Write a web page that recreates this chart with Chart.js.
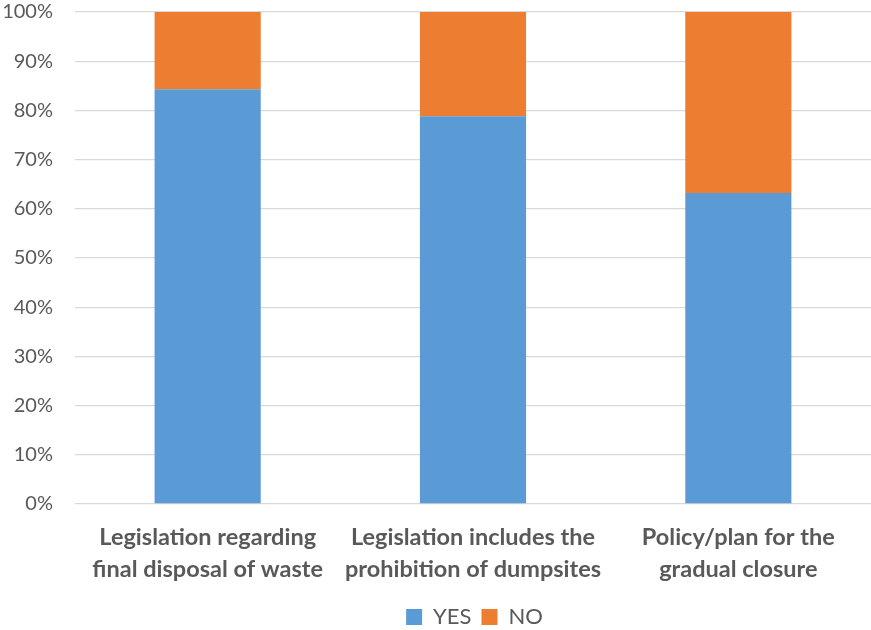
<!DOCTYPE html>
<html>
<head>
<meta charset="utf-8">
<script src="https://cdn.jsdelivr.net/npm/chart.js@4/dist/chart.umd.min.js"></script>
<style>
  html, body { margin: 0; padding: 0; background: #fff; }
  #wrap { width: 871px; height: 630px; }
</style>
</head>
<body>
<div id="wrap"><canvas id="chart" width="871" height="630"></canvas></div>
<script>
// Categories and shares (percent of respondents)
const categories = [
  ["Legislation regarding", "final disposal of waste"],
  ["Legislation includes the", "prohibition of dumpsites"],
  ["Policy/plan for the", "gradual closure"]
];
const yesValues = [84.3, 78.8, 63.2];
const noValues = [15.7, 21.2, 36.8];
const yTicks = [0, 10, 20, 30, 40, 50, 60, 70, 80, 90, 100];

const grey = "#595959";

// Legend sits centred under the plot area rather than the whole canvas
const legendShift = {
  id: "legendShift",
  afterLayout(chart) {
    const lg = chart.legend;
    if (!lg) return;
    const dx = 39;
    lg.left += dx;
    lg.right += dx;
  }
};

new Chart(document.getElementById("chart"), {
  type: "bar",
  data: {
    labels: categories,
    datasets: [
      { label: "YES", data: yesValues, backgroundColor: "#5B9BD5", borderWidth: 0 },
      { label: "NO", data: noValues, backgroundColor: "#ED7D31", borderWidth: 0 }
    ]
  },
  plugins: [legendShift],
  options: {
    responsive: false,
    animation: false,
    devicePixelRatio: 1,
    layout: { padding: { top: 12, right: 0, bottom: -8, left: 0 } },
    datasets: { bar: { categoryPercentage: 1.0, barPercentage: 0.4 } },
    scales: {
      x: {
        stacked: true,
        grid: { display: false },
        border: { display: false },
        ticks: {
          color: grey,
          padding: 9,
          maxRotation: 0,
          autoSkip: false,
          font: { family: "Lato", size: 23.5, weight: "bold", lineHeight: 1.36 }
        },
        afterFit: s => { s.height = 92; s.paddingLeft = 0; s.paddingRight = 0; }
      },
      y: {
        stacked: true,
        min: 0,
        max: 100,
        afterBuildTicks: s => { s.ticks = yTicks.map(v => ({ value: v })); },
        grid: { color: "#D9D9D9", lineWidth: 1.3, drawTicks: false },
        border: { display: false },
        ticks: {
          color: grey,
          padding: 22,
          font: { family: "Lato", size: 20 },
          callback: v => v + "%"
        },
        afterFit: s => { s.width = 75; s.paddingTop = 0; s.paddingBottom = 0; }
      }
    },
    plugins: {
      legend: {
        position: "bottom",
        labels: {
          color: grey,
          boxWidth: 16,
          boxHeight: 16,
          padding: 10,
          font: { family: "Lato", size: 22 }
        }
      },
      tooltip: { enabled: false }
    }
  }
});
</script>
</body>
</html>
